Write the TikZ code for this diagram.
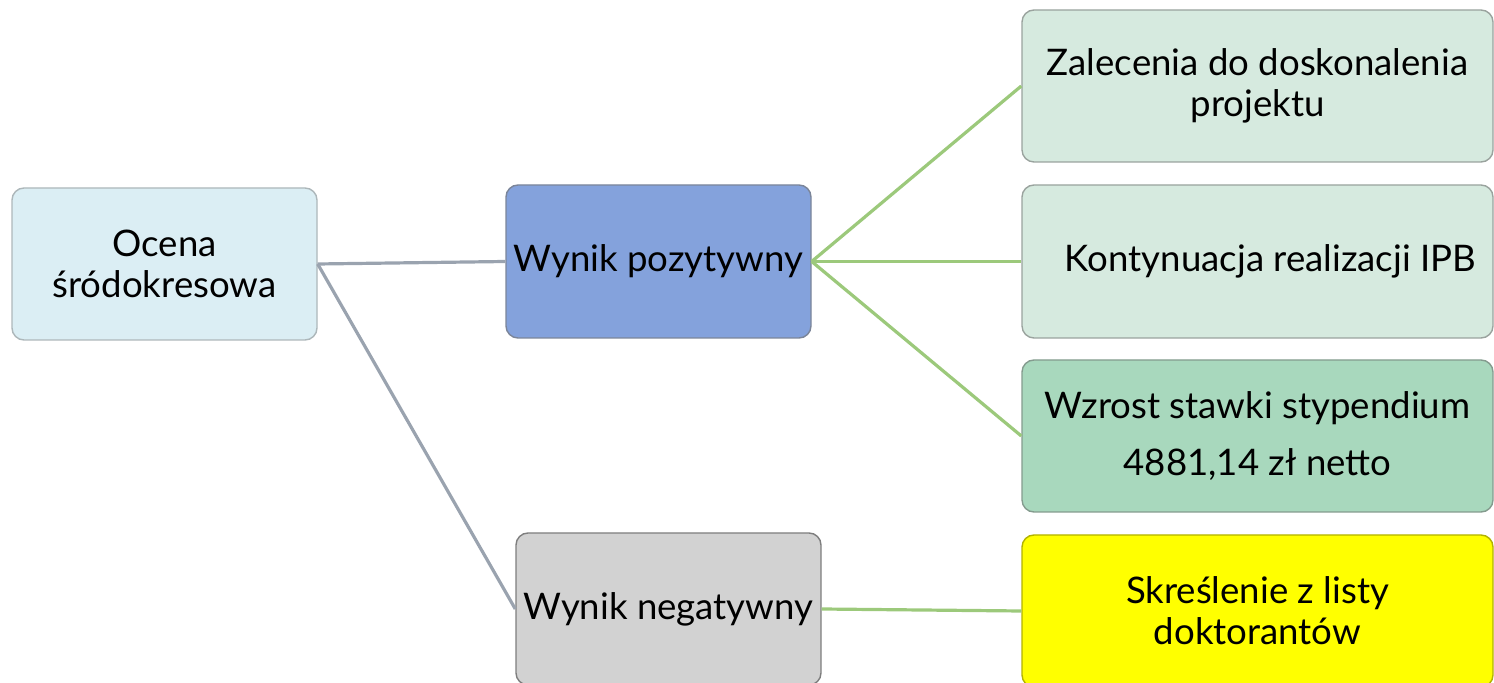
\documentclass[tikz,border=0pt]{standalone}
\usepackage{fontspec}
\setmainfont{Lato}
\definecolor{afill}{HTML}{DBEEF4}
\definecolor{bfill}{HTML}{84A2DC}
\definecolor{cfill}{HTML}{D2D2D2}
\definecolor{dfill}{HTML}{D6EADF}
\definecolor{ffill}{HTML}{A8D8BD}
\definecolor{gfill}{HTML}{FFFF00}
\definecolor{grayline}{HTML}{9AA3AF}
\definecolor{greenline}{HTML}{9CC97B}
\tikzset{
  box/.style={draw, line width=0.7pt, rounded corners=6pt, inner sep=0pt, align=center,
    font=\fontsize{18.3pt}{20.5pt}\selectfont, text=black},
  grayconn/.style={draw=grayline, line width=1.6pt},
  greenconn/.style={draw=greenline, line width=1.6pt},
}
\begin{document}
\begin{tikzpicture}[x=0.5pt,y=-0.5pt]
\useasboundingbox (0,0) rectangle (1494,683);
\clip (0,0) rectangle (1494,683);
% nodes
\node[box, fill=afill, draw=afill!50!gray, minimum width=152.5pt, minimum height=76pt] (A) at (164.5,264) {Ocena\\śródokresowa};
\node[box, fill=bfill, draw=bfill!50!black!70, minimum width=152.5pt, minimum height=76.5pt] (B) at (658.5,261.5) {Wynik pozytywny};
\node[box, fill=cfill, draw=cfill!60!black, minimum width=152.5pt, minimum height=76pt] (C) at (668.5,609) {Wynik negatywny};
\node[box, fill=dfill, draw=dfill!60!black!80, minimum width=235.5pt, minimum height=76pt] (D) at (1257.5,86) {Zalecenia do doskonalenia\\projektu};
\node[box, fill=dfill, draw=dfill!60!black!80, minimum width=235.5pt, minimum height=76.5pt] (E) at (1257.5,261.5) {\hspace*{13pt}Kontynuacja realizacji IPB};
\node[box, fill=ffill, draw=ffill!60!black!80, minimum width=235.5pt, minimum height=76pt, font=\fontsize{18.3pt}{28.5pt}\selectfont] (F) at (1257.5,436) {Wzrost stawki stypendium\\4881,14 zł netto};
\node[box, fill=gfill, draw=gfill!70!black, minimum width=235.5pt, minimum height=76pt] (G) at (1257.5,611) {Skreślenie z listy\\doktorantów};
% connectors
\draw[grayconn] (A.east) -- (B.west);
\draw[grayconn] (A.east) -- (C.west);
\draw[greenconn] (B.east) -- (D.west);
\draw[greenconn] (B.east) -- (E.west);
\draw[greenconn] (B.east) -- (F.west);
\draw[greenconn] (C.east) -- (G.west);
\end{tikzpicture}
\end{document}
